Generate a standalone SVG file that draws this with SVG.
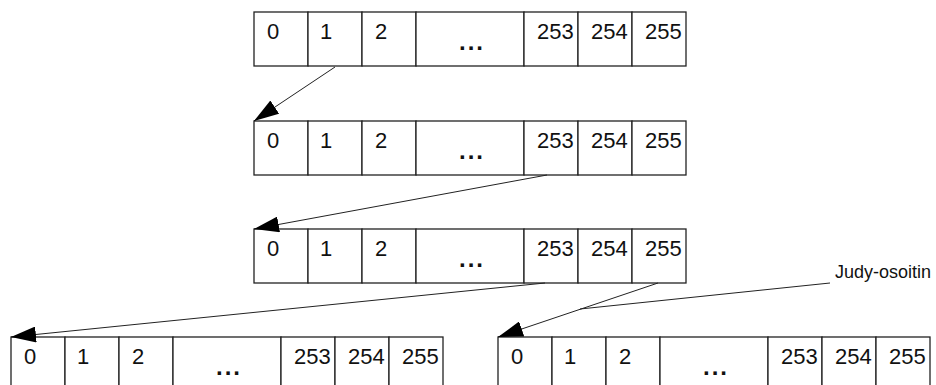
<svg xmlns="http://www.w3.org/2000/svg" width="936" height="385" viewBox="0 0 936 385">
<style>
.cell{fill:#fff;stroke:#222;stroke-width:1.3}
.t{font-family:"Liberation Sans",Arial,sans-serif;font-size:22px;fill:#111}
.d{font-family:"Liberation Sans",Arial,sans-serif;font-size:24px;font-weight:bold;fill:#111;letter-spacing:2px;text-anchor:middle}
.lbl{font-family:"Liberation Sans",Arial,sans-serif;font-size:18px;fill:#111}
.c{stroke:#222;stroke-width:1;fill:none}
</style>
<defs>
<marker id="ah" viewBox="0 0 25 16" refX="25" refY="8" markerWidth="25" markerHeight="16" markerUnits="userSpaceOnUse" orient="auto">
<path d="M0,0 L25,8 L0,16 z" fill="#000"/>
</marker>
<g id="arr">
<rect class="cell" x="0" y="0" width="54" height="54"/>
<rect class="cell" x="54" y="0" width="54" height="54"/>
<rect class="cell" x="108" y="0" width="54" height="54"/>
<rect class="cell" x="162" y="0" width="108" height="54"/>
<rect class="cell" x="270" y="0" width="54" height="54"/>
<rect class="cell" x="324" y="0" width="54" height="54"/>
<rect class="cell" x="378" y="0" width="54" height="54"/>
<text class="t" x="13" y="27">0</text>
<text class="t" x="66" y="27">1</text>
<text class="t" x="121" y="27">2</text>
<text class="d" x="218" y="38">...</text>
<text class="t" x="283" y="27">253</text>
<text class="t" x="337" y="27">254</text>
<text class="t" x="391" y="27">255</text>
</g>
</defs>
<g id="node1"><use href="#arr" x="254" y="12"/></g>
<g id="node2"><use href="#arr" x="254" y="121"/></g>
<g id="node3"><use href="#arr" x="254" y="229"/></g>
<g id="node4"><use href="#arr" x="11" y="337"/></g>
<g id="node5"><use href="#arr" x="498" y="337"/></g>
<g id="connectors">
<line class="c" x1="335" y1="67" x2="254" y2="121" marker-end="url(#ah)"/>
<line class="c" x1="547" y1="175" x2="254" y2="229" marker-end="url(#ah)"/>
<line class="c" x1="545" y1="283" x2="11" y2="337" marker-end="url(#ah)"/>
<line class="c" x1="658" y1="283" x2="498" y2="337" marker-end="url(#ah)"/>
<line class="c" x1="830" y1="283" x2="580" y2="309"/>
</g>
<g id="label"><text class="lbl" x="835" y="278">Judy-osoitin</text></g>
</svg>
